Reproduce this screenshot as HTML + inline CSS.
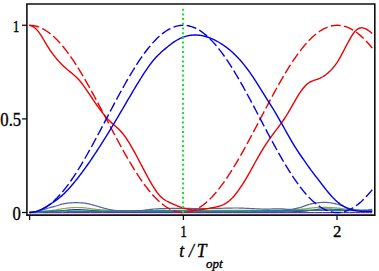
<!DOCTYPE html>
<html><head><meta charset="utf-8"><style>
html,body{margin:0;padding:0;background:#fff;width:379px;height:271px;overflow:hidden}
svg{display:block}
text{font-family:"Liberation Serif",serif;fill:#000;stroke:#000;stroke-width:0.35px}
</style></head><body>
<svg width="379" height="271" viewBox="0 0 379 271">
<defs><clipPath id="c"><rect x="27.7" y="4.8" width="346.3" height="209.5"/></clipPath></defs>
<g clip-path="url(#c)">
<path d="M29.3 213.4 L32.85 213.4 L37.18 213.4 L42.3 213.4 L48.21 213.41 L54.93 213.41 L62.46 213.41 L70.81 213.4 L80 213.4 L90.55 213.39 L102.68 213.38 L115.94 213.36 L129.86 213.34 L143.98 213.32 L157.85 213.31 L171.01 213.3 L183 213.3 L193.92 213.31 L204.24 213.34 L214.09 213.37 L223.56 213.4 L232.78 213.43 L241.85 213.46 L250.89 213.49 L260 213.5 L269.28 213.5 L278.64 213.49 L287.98 213.48 L297.18 213.46 L306.09 213.44 L314.62 213.43 L322.63 213.41 L330 213.4 L336.89 213.4 L343.49 213.39 L349.72 213.39 L355.48 213.39 L360.69 213.4 L365.27 213.4 L369.13 213.4 L372.2 213.4" stroke="#dccbee" stroke-width="1.0" fill="none"/>
<path d="M29.3 212.6 L32.85 212.59 L37.18 212.58 L42.3 212.57 L48.21 212.56 L54.93 212.54 L62.46 212.53 L70.81 212.51 L80 212.5 L90.55 212.49 L102.68 212.47 L115.94 212.46 L129.86 212.44 L143.98 212.43 L157.85 212.42 L171.01 212.41 L183 212.4 L193.92 212.39 L204.24 212.39 L214.09 212.39 L223.56 212.39 L232.78 212.39 L241.85 212.39 L250.89 212.39 L260 212.4 L269.28 212.41 L278.64 212.42 L287.98 212.43 L297.18 212.45 L306.09 212.47 L314.62 212.48 L322.63 212.49 L330 212.5 L336.89 212.5 L343.49 212.51 L349.72 212.51 L355.48 212.51 L360.69 212.5 L365.27 212.5 L369.13 212.5 L372.2 212.5" stroke="#6b2f8f" stroke-width="1.0" fill="none"/>
<path d="M29.3 212.5 L30.52 212.46 L32.14 212.4 L34.07 212.34 L36.21 212.27 L38.47 212.19 L40.76 212.1 L42.96 212 L45 211.9 L46.9 211.79 L48.78 211.66 L50.63 211.53 L52.48 211.39 L54.33 211.24 L56.2 211.09 L58.08 210.95 L60 210.8 L61.95 210.64 L63.93 210.46 L65.93 210.27 L67.94 210.08 L69.96 209.91 L71.98 209.76 L73.99 209.65 L76 209.6 L77.99 209.6 L79.95 209.65 L81.91 209.74 L83.88 209.85 L85.85 209.98 L87.86 210.12 L89.9 210.27 L92 210.4 L94.07 210.54 L96.08 210.69 L98.08 210.86 L100.12 211.03 L102.28 211.2 L104.61 211.35 L107.16 211.49 L110 211.6 L113.09 211.68 L116.35 211.75 L119.8 211.79 L123.44 211.82 L127.27 211.85 L131.3 211.87 L135.55 211.88 L140 211.9 L144.79 211.91 L149.98 211.92 L155.44 211.92 L161.06 211.92 L166.74 211.91 L172.37 211.91 L177.82 211.9 L183 211.9 L187.89 211.9 L192.6 211.9 L197.18 211.9 L201.69 211.9 L206.17 211.9 L210.68 211.9 L215.27 211.9 L220 211.9 L224.86 211.9 L229.79 211.91 L234.78 211.92 L239.81 211.92 L244.87 211.93 L249.93 211.93 L254.98 211.92 L260 211.9 L265.12 211.88 L270.42 211.88 L275.79 211.87 L281.12 211.86 L286.32 211.82 L291.27 211.76 L295.86 211.65 L300 211.5 L303.6 211.26 L306.74 210.94 L309.52 210.57 L312.06 210.17 L314.47 209.78 L316.85 209.44 L319.33 209.16 L322 209 L324.8 208.95 L327.58 208.98 L330.37 209.08 L333.18 209.23 L336.02 209.41 L338.93 209.59 L341.92 209.76 L345 209.9 L348.38 210.03 L352.14 210.17 L356.09 210.31 L360.04 210.46 L363.81 210.59 L367.21 210.72 L370.07 210.82 L372.2 210.9" stroke="#2c34a0" stroke-width="1.1" fill="none"/>
<path d="M29.3 212.5 L30.55 212.42 L32.25 212.31 L34.29 212.18 L36.52 212.04 L38.84 211.88 L41.11 211.72 L43.2 211.56 L45 211.4 L46.53 211.24 L47.94 211.07 L49.24 210.9 L50.46 210.72 L51.62 210.54 L52.75 210.36 L53.87 210.18 L55 210 L56.14 209.82 L57.25 209.64 L58.35 209.45 L59.41 209.26 L60.45 209.08 L61.46 208.91 L62.45 208.75 L63.4 208.6 L64.32 208.47 L65.19 208.35 L66.03 208.23 L66.85 208.13 L67.65 208.04 L68.43 207.95 L69.22 207.87 L70 207.8 L70.77 207.73 L71.5 207.68 L72.21 207.62 L72.91 207.58 L73.63 207.55 L74.37 207.52 L75.16 207.51 L76 207.5 L76.88 207.5 L77.79 207.51 L78.72 207.52 L79.69 207.54 L80.69 207.58 L81.74 207.63 L82.84 207.71 L84 207.8 L85.22 207.93 L86.49 208.08 L87.82 208.26 L89.19 208.46 L90.6 208.66 L92.04 208.85 L93.51 209.04 L95 209.2 L96.5 209.35 L98.02 209.49 L99.55 209.63 L101.12 209.76 L102.74 209.89 L104.42 210 L106.17 210.11 L108 210.2 L109.88 210.28 L111.78 210.35 L113.73 210.42 L115.75 210.47 L117.86 210.51 L120.09 210.55 L122.46 210.58 L125 210.6 L127.69 210.61 L130.5 210.61 L133.44 210.6 L136.5 210.58 L139.69 210.56 L143 210.54 L146.44 210.52 L150 210.5 L153.75 210.49 L157.71 210.47 L161.83 210.46 L166.06 210.44 L170.35 210.43 L174.63 210.42 L178.87 210.41 L183 210.4 L187.03 210.4 L191 210.39 L194.94 210.39 L198.88 210.39 L202.82 210.4 L206.81 210.4 L210.86 210.4 L215 210.4 L219.27 210.4 L223.66 210.4 L228.12 210.4 L232.62 210.41 L237.11 210.41 L241.53 210.41 L245.84 210.4 L250 210.4 L254.06 210.4 L258.09 210.4 L262.06 210.41 L265.94 210.41 L269.7 210.41 L273.32 210.39 L276.76 210.36 L280 210.3 L283.05 210.22 L285.94 210.12 L288.67 210 L291.25 209.86 L293.67 209.72 L295.94 209.58 L298.05 209.44 L300 209.3 L301.73 209.17 L303.2 209.03 L304.48 208.88 L305.62 208.74 L306.69 208.59 L307.73 208.46 L308.82 208.32 L310 208.2 L311.25 208.08 L312.5 207.96 L313.75 207.84 L315 207.72 L316.25 207.62 L317.5 207.53 L318.75 207.45 L320 207.4 L321.25 207.36 L322.5 207.35 L323.75 207.34 L325 207.35 L326.25 207.37 L327.5 207.4 L328.75 207.45 L330 207.5 L331.28 207.57 L332.59 207.65 L333.93 207.74 L335.25 207.85 L336.54 207.96 L337.78 208.08 L338.94 208.19 L340 208.3 L340.89 208.41 L341.59 208.52 L342.19 208.63 L342.75 208.74 L343.34 208.85 L344.03 208.97 L344.89 209.08 L346 209.2 L347.38 209.33 L348.98 209.46 L350.74 209.6 L352.61 209.74 L354.53 209.88 L356.44 210 L358.28 210.11 L360 210.2 L361.69 210.26 L363.46 210.31 L365.24 210.34 L366.98 210.36 L368.6 210.37 L370.05 210.38 L371.27 210.39 L372.2 210.4" stroke="#86aa4a" stroke-width="1.2" fill="none"/>
<path d="M29.3 212.5 L30.52 212.4 L32.14 212.26 L34.07 212.1 L36.21 211.92 L38.47 211.74 L40.76 211.56 L42.96 211.42 L45 211.3 L46.9 211.22 L48.78 211.15 L50.63 211.1 L52.48 211.06 L54.33 211.03 L56.2 211.01 L58.08 211 L60 211 L61.93 211.01 L63.86 211.04 L65.79 211.09 L67.75 211.14 L69.74 211.19 L71.77 211.24 L73.85 211.28 L76 211.3 L78.19 211.31 L80.4 211.3 L82.64 211.29 L84.94 211.28 L87.3 211.26 L89.76 211.23 L92.32 211.22 L95 211.2 L97.8 211.19 L100.71 211.17 L103.72 211.16 L106.81 211.15 L110 211.14 L113.26 211.12 L116.59 211.11 L120 211.1 L123.49 211.09 L127.08 211.07 L130.75 211.05 L134.5 211.04 L138.31 211.02 L142.17 211.01 L146.07 211 L150 211 L153.99 211 L158.06 211.01 L162.2 211.02 L166.38 211.04 L170.57 211.05 L174.75 211.07 L178.9 211.09 L183 211.1 L187.03 211.11 L191 211.13 L194.94 211.15 L198.88 211.16 L202.82 211.18 L206.81 211.19 L210.86 211.2 L215 211.2 L219.33 211.2 L223.89 211.19 L228.56 211.19 L233.25 211.17 L237.84 211.16 L242.23 211.14 L246.32 211.12 L250 211.1 L253.25 211.07 L256.17 211.04 L258.82 211 L261.25 210.96 L263.53 210.91 L265.7 210.87 L267.84 210.83 L270 210.8 L272.11 210.77 L274.1 210.74 L275.99 210.72 L277.81 210.69 L279.59 210.67 L281.37 210.65 L283.16 210.62 L285 210.6 L286.83 210.57 L288.59 210.55 L290.32 210.53 L292.06 210.5 L293.86 210.47 L295.76 210.45 L297.79 210.42 L300 210.4 L302.41 210.37 L304.98 210.34 L307.69 210.31 L310.5 210.28 L313.37 210.25 L316.27 210.22 L319.15 210.21 L322 210.2 L324.85 210.21 L327.75 210.23 L330.68 210.26 L333.62 210.29 L336.55 210.33 L339.44 210.36 L342.26 210.39 L345 210.4 L347.73 210.41 L350.51 210.41 L353.28 210.42 L355.99 210.42 L358.57 210.41 L360.97 210.39 L363.13 210.35 L365 210.3 L366.56 210.22 L367.87 210.11 L368.95 209.98 L369.85 209.84 L370.59 209.71 L371.21 209.58 L371.73 209.47 L372.2 209.4" stroke="#1e7f88" stroke-width="1.5" fill="none"/>
<path d="M29.3 212.5 L29.82 212.45 L30.52 212.4 L31.35 212.33 L32.27 212.25 L33.24 212.16 L34.22 212.05 L35.15 211.94 L36 211.8 L36.79 211.65 L37.56 211.47 L38.31 211.28 L39.06 211.08 L39.8 210.86 L40.54 210.64 L41.27 210.42 L42 210.2 L42.71 209.98 L43.39 209.76 L44.05 209.53 L44.71 209.29 L45.39 209.05 L46.1 208.81 L46.87 208.56 L47.7 208.3 L48.63 208.03 L49.65 207.74 L50.72 207.44 L51.83 207.14 L52.94 206.84 L54.03 206.55 L55.05 206.27 L56 206 L56.86 205.75 L57.66 205.5 L58.42 205.26 L59.14 205.03 L59.85 204.8 L60.55 204.59 L61.27 204.39 L62 204.2 L62.74 204.02 L63.45 203.86 L64.16 203.71 L64.88 203.56 L65.6 203.43 L66.36 203.31 L67.15 203.2 L68 203.1 L68.9 203.01 L69.84 202.93 L70.81 202.86 L71.81 202.8 L72.84 202.75 L73.88 202.72 L74.94 202.7 L76 202.7 L77.07 202.71 L78.16 202.72 L79.26 202.74 L80.38 202.78 L81.51 202.84 L82.66 202.93 L83.82 203.05 L85 203.2 L86.2 203.4 L87.42 203.63 L88.65 203.9 L89.9 204.19 L91.16 204.5 L92.43 204.83 L93.71 205.16 L95 205.5 L96.3 205.86 L97.61 206.24 L98.94 206.65 L100.28 207.06 L101.61 207.48 L102.95 207.88 L104.28 208.25 L105.6 208.6 L106.91 208.92 L108.2 209.23 L109.49 209.52 L110.77 209.79 L112.06 210.05 L113.36 210.29 L114.67 210.51 L116 210.7 L117.37 210.87 L118.78 211.02 L120.21 211.14 L121.65 211.25 L123.07 211.34 L124.45 211.41 L125.76 211.46 L127 211.5 L128.13 211.52 L129.16 211.52 L130.13 211.5 L131.06 211.47 L131.99 211.42 L132.93 211.36 L133.92 211.28 L135 211.2 L136.15 211.1 L137.34 210.98 L138.56 210.85 L139.81 210.71 L141.09 210.55 L142.38 210.4 L143.69 210.25 L145 210.1 L146.31 209.95 L147.61 209.79 L148.92 209.63 L150.25 209.46 L151.61 209.3 L153.02 209.15 L154.47 209.02 L156 208.9 L157.61 208.8 L159.31 208.72 L161.07 208.64 L162.88 208.58 L164.69 208.53 L166.5 208.48 L168.28 208.44 L170 208.4 L171.66 208.37 L173.27 208.34 L174.86 208.32 L176.44 208.3 L178.02 208.29 L179.63 208.29 L181.29 208.29 L183 208.3 L184.77 208.32 L186.56 208.36 L188.39 208.41 L190.25 208.46 L192.14 208.51 L194.06 208.55 L196.02 208.58 L198 208.6 L200 208.6 L202.02 208.59 L204.05 208.57 L206.12 208.54 L208.24 208.51 L210.42 208.48 L212.67 208.44 L215 208.4 L217.48 208.35 L220.13 208.29 L222.89 208.23 L225.69 208.16 L228.46 208.09 L231.15 208.04 L233.68 208.01 L236 208 L238.08 208.02 L239.97 208.06 L241.72 208.12 L243.38 208.19 L244.98 208.27 L246.59 208.35 L248.25 208.43 L250 208.5 L251.83 208.58 L253.68 208.66 L255.55 208.76 L257.44 208.85 L259.33 208.94 L261.23 209.01 L263.12 209.07 L265 209.1 L266.91 209.1 L268.87 209.07 L270.84 209.01 L272.81 208.95 L274.74 208.89 L276.6 208.83 L278.36 208.8 L280 208.8 L281.49 208.85 L282.85 208.95 L284.12 209.07 L285.31 209.2 L286.47 209.32 L287.62 209.4 L288.78 209.44 L290 209.4 L291.24 209.29 L292.48 209.14 L293.71 208.95 L294.94 208.71 L296.18 208.45 L297.43 208.15 L298.7 207.84 L300 207.5 L301.34 207.12 L302.73 206.67 L304.14 206.17 L305.56 205.66 L306.98 205.16 L308.37 204.68 L309.71 204.25 L311 203.9 L312.24 203.62 L313.46 203.39 L314.65 203.2 L315.81 203.04 L316.93 202.91 L318.01 202.79 L319.03 202.69 L320 202.6 L320.88 202.51 L321.66 202.44 L322.38 202.39 L323.06 202.36 L323.74 202.34 L324.43 202.34 L325.17 202.36 L326 202.4 L326.91 202.46 L327.88 202.54 L328.9 202.64 L329.94 202.76 L330.99 202.9 L332.02 203.05 L333.03 203.22 L334 203.4 L334.91 203.59 L335.78 203.8 L336.63 204.03 L337.46 204.27 L338.3 204.53 L339.16 204.8 L340.06 205.09 L341 205.4 L341.99 205.74 L343 206.12 L344.03 206.53 L345.09 206.95 L346.17 207.37 L347.29 207.78 L348.43 208.16 L349.6 208.5 L350.8 208.81 L352.03 209.11 L353.29 209.39 L354.58 209.66 L355.89 209.9 L357.23 210.12 L358.6 210.32 L360 210.5 L361.52 210.65 L363.21 210.76 L364.98 210.85 L366.75 210.93 L368.44 210.98 L369.97 211.03 L371.25 211.06 L372.2 211.1" stroke="#4d64a5" stroke-width="1.2" fill="none"/>
<path d="M29.3 25.3 L30.44 25.33 L31.59 25.4 L32.73 25.53 L33.87 25.71 L35.02 25.94 L36.16 26.21 L37.3 26.54 L38.45 26.92 L39.59 27.35 L40.73 27.83 L41.88 28.36 L43.02 28.94 L44.16 29.57 L45.3 30.24 L46.45 30.97 L47.59 31.74 L48.73 32.56 L49.88 33.43 L51.02 34.34 L52.16 35.3 L53.31 36.3 L54.45 37.35 L55.59 38.45 L56.74 39.58 L57.88 40.76 L59.02 41.99 L60.17 43.25 L61.31 44.56 L62.45 45.9 L63.6 47.29 L64.74 48.71 L65.88 50.18 L67.03 51.68 L68.17 53.21 L69.31 54.79 L70.45 56.39 L71.6 58.04 L72.74 59.71 L73.88 61.42 L75.03 63.16 L76.17 64.92 L77.31 66.72 L78.46 68.55 L79.6 70.4 L80.74 72.28 L81.89 74.19 L83.03 76.12 L84.17 78.07 L85.32 80.05 L86.46 82.04 L87.6 84.06 L88.75 86.09 L89.89 88.15 L91.03 90.22 L92.18 92.3 L93.32 94.4 L94.46 96.52 L95.61 98.64 L96.75 100.78 L97.89 102.92 L99.03 105.08 L100.18 107.24 L101.32 109.41 L102.46 111.58 L103.61 113.76 L104.75 115.94 L105.89 118.12 L107.04 120.31 L108.18 122.49 L109.32 124.67 L110.47 126.85 L111.61 129.02 L112.75 131.19 L113.9 133.35 L115.04 135.5 L116.18 137.64 L117.33 139.78 L118.47 141.9 L119.61 144.01 L120.76 146.1 L121.9 148.18 L123.04 150.25 L124.19 152.3 L125.33 154.33 L126.47 156.34 L127.61 158.33 L128.76 160.3 L129.9 162.24 L131.04 164.17 L132.19 166.06 L133.33 167.94 L134.47 169.78 L135.62 171.6 L136.76 173.39 L137.9 175.15 L139.05 176.88 L140.19 178.58 L141.33 180.24 L142.48 181.87 L143.62 183.47 L144.76 185.03 L145.91 186.56 L147.05 188.05 L148.19 189.5 L149.34 190.92 L150.48 192.29 L151.62 193.63 L152.76 194.92 L153.91 196.17 L155.05 197.38 L156.19 198.55 L157.34 199.68 L158.48 200.76 L159.62 201.79 L160.77 202.78 L161.91 203.73 L163.05 204.63 L164.2 205.48 L165.34 206.29 L166.48 207.05 L167.63 207.76 L168.77 208.42 L169.91 209.03 L171.06 209.6 L172.2 210.11 L173.34 210.58 L174.49 210.99 L175.63 211.36 L176.77 211.67 L177.92 211.94 L179.06 212.15 L180.2 212.31 L181.34 212.43 L182.49 212.49 L183.63 212.5 L184.77 212.46 L185.92 212.37 L187.06 212.22 L188.2 212.03 L189.35 211.79 L190.49 211.49 L191.63 211.15 L192.78 210.76 L193.92 210.31 L195.06 209.82 L196.21 209.27 L197.35 208.68 L198.49 208.04 L199.64 207.35 L200.78 206.61 L201.92 205.83 L203.07 204.99 L204.21 204.11 L205.35 203.19 L206.49 202.22 L207.64 201.2 L208.78 200.14 L209.92 199.03 L211.07 197.88 L212.21 196.69 L213.35 195.45 L214.5 194.18 L215.64 192.86 L216.78 191.5 L217.93 190.1 L219.07 188.67 L220.21 187.19 L221.36 185.68 L222.5 184.13 L223.64 182.55 L224.79 180.93 L225.93 179.28 L227.07 177.6 L228.22 175.88 L229.36 174.13 L230.5 172.36 L231.65 170.55 L232.79 168.72 L233.93 166.86 L235.07 164.97 L236.22 163.06 L237.36 161.12 L238.5 159.16 L239.65 157.18 L240.79 155.18 L241.93 153.15 L243.08 151.11 L244.22 149.06 L245.36 146.98 L246.51 144.89 L247.65 142.79 L248.79 140.67 L249.94 138.54 L251.08 136.4 L252.22 134.25 L253.37 132.1 L254.51 129.93 L255.65 127.76 L256.8 125.59 L257.94 123.41 L259.08 121.23 L260.23 119.04 L261.37 116.86 L262.51 114.68 L263.65 112.5 L264.8 110.32 L265.94 108.15 L267.08 105.99 L268.23 103.83 L269.37 101.68 L270.51 99.54 L271.66 97.41 L272.8 95.29 L273.94 93.18 L275.09 91.09 L276.23 89.02 L277.37 86.96 L278.52 84.91 L279.66 82.89 L280.8 80.88 L281.95 78.9 L283.09 76.94 L284.23 75 L285.38 73.08 L286.52 71.19 L287.66 69.33 L288.8 67.49 L289.95 65.68 L291.09 63.9 L292.23 62.15 L293.38 60.43 L294.52 58.74 L295.66 57.08 L296.81 55.46 L297.95 53.87 L299.09 52.32 L300.24 50.8 L301.38 49.32 L302.52 47.88 L303.67 46.48 L304.81 45.12 L305.95 43.79 L307.1 42.51 L308.24 41.27 L309.38 40.07 L310.53 38.92 L311.67 37.81 L312.81 36.74 L313.96 35.72 L315.1 34.74 L316.24 33.8 L317.38 32.92 L318.53 32.08 L319.67 31.29 L320.81 30.54 L321.96 29.85 L323.1 29.2 L324.24 28.6 L325.39 28.05 L326.53 27.55 L327.67 27.1 L328.82 26.7 L329.96 26.35 L331.1 26.05 L332.25 25.8 L333.39 25.6 L334.53 25.45 L335.68 25.35 L336.82 25.3 L337.96 25.31 L339.11 25.36 L340.25 25.47 L341.39 25.63 L342.53 25.83 L343.68 26.09 L344.82 26.4 L345.96 26.76 L347.11 27.17 L348.25 27.63 L349.39 28.13 L350.54 28.69 L351.68 29.3 L352.82 29.95 L353.97 30.66 L355.11 31.41 L356.25 32.21 L357.4 33.06 L358.54 33.95 L359.68 34.89 L360.83 35.87 L361.97 36.9 L363.11 37.98 L364.26 39.1 L365.4 40.26 L366.54 41.47 L367.69 42.71 L368.83 44 L369.97 45.33 L371.11 46.7 L372.26 48.11" stroke="#ee0000" stroke-width="1.4" fill="none" stroke-dasharray="10 3.4"/>
<path d="M29.2 25.34 L30.06 25.48 L30.92 25.71 L31.78 26.02 L32.64 26.43 L33.5 26.92 L34.36 27.52 L35.22 28.2 L36.08 28.99 L36.94 29.87 L37.8 30.85 L38.66 31.94 L39.52 33.12 L40.38 34.39 L41.24 35.72 L42.09 37.11 L42.95 38.54 L43.81 40 L44.67 41.48 L45.53 42.94 L46.39 44.38 L47.25 45.79 L48.11 47.15 L48.97 48.48 L49.83 49.78 L50.69 51.04 L51.55 52.26 L52.41 53.45 L53.27 54.61 L54.13 55.74 L54.99 56.83 L55.85 57.9 L56.71 58.93 L57.57 59.93 L58.43 60.91 L59.29 61.86 L60.15 62.78 L61.01 63.68 L61.87 64.55 L62.73 65.39 L63.59 66.21 L64.45 67.01 L65.31 67.78 L66.16 68.53 L67.02 69.27 L67.88 69.98 L68.74 70.69 L69.6 71.39 L70.46 72.08 L71.32 72.78 L72.18 73.49 L73.04 74.21 L73.9 74.95 L74.76 75.71 L75.62 76.5 L76.48 77.31 L77.34 78.17 L78.2 79.07 L79.06 80.01 L79.92 81.01 L80.78 82.05 L81.64 83.15 L82.5 84.28 L83.36 85.44 L84.22 86.64 L85.08 87.86 L85.94 89.1 L86.8 90.36 L87.66 91.63 L88.52 92.9 L89.38 94.18 L90.24 95.45 L91.09 96.73 L91.95 98 L92.81 99.27 L93.67 100.53 L94.53 101.79 L95.39 103.04 L96.25 104.27 L97.11 105.49 L97.97 106.7 L98.83 107.9 L99.69 109.08 L100.55 110.23 L101.41 111.37 L102.27 112.49 L103.13 113.58 L103.99 114.65 L104.85 115.69 L105.71 116.7 L106.57 117.68 L107.43 118.63 L108.29 119.54 L109.15 120.42 L110.01 121.27 L110.87 122.09 L111.73 122.88 L112.59 123.65 L113.45 124.41 L114.31 125.17 L115.16 125.93 L116.02 126.69 L116.88 127.47 L117.74 128.26 L118.6 129.08 L119.46 129.93 L120.32 130.82 L121.18 131.75 L122.04 132.73 L122.9 133.77 L123.76 134.87 L124.62 136.01 L125.48 137.21 L126.34 138.46 L127.2 139.75 L128.06 141.08 L128.92 142.45 L129.78 143.86 L130.64 145.3 L131.5 146.78 L132.36 148.28 L133.22 149.8 L134.08 151.35 L134.94 152.92 L135.8 154.51 L136.66 156.11 L137.52 157.72 L138.38 159.34 L139.24 160.97 L140.09 162.61 L140.95 164.25 L141.81 165.89 L142.67 167.53 L143.53 169.17 L144.39 170.8 L145.25 172.42 L146.11 174.04 L146.97 175.64 L147.83 177.22 L148.69 178.79 L149.55 180.33 L150.41 181.86 L151.27 183.35 L152.13 184.82 L152.99 186.25 L153.85 187.63 L154.71 188.97 L155.57 190.26 L156.43 191.49 L157.29 192.66 L158.15 193.76 L159.01 194.8 L159.87 195.75 L160.73 196.63 L161.59 197.43 L162.45 198.16 L163.31 198.83 L164.16 199.44 L165.02 200 L165.88 200.52 L166.74 201.01 L167.6 201.47 L168.46 201.9 L169.32 202.33 L170.18 202.75 L171.04 203.16 L171.9 203.57 L172.76 203.96 L173.62 204.35 L174.48 204.73 L175.34 205.11 L176.2 205.47 L177.06 205.82 L177.92 206.17 L178.78 206.5 L179.64 206.82 L180.5 207.13 L181.36 207.42 L182.22 207.7 L183.08 207.97 L183.94 208.23 L184.8 208.47 L185.66 208.69 L186.52 208.9 L187.38 209.09 L188.24 209.27 L189.09 209.43 L189.95 209.57 L190.81 209.69 L191.67 209.79 L192.53 209.88 L193.39 209.94 L194.25 209.98 L195.11 210 L195.97 209.99 L196.83 209.97 L197.69 209.93 L198.55 209.87 L199.41 209.79 L200.27 209.7 L201.13 209.59 L201.99 209.48 L202.85 209.35 L203.71 209.22 L204.57 209.08 L205.43 208.93 L206.29 208.78 L207.15 208.63 L208.01 208.48 L208.87 208.32 L209.73 208.17 L210.59 208.03 L211.45 207.88 L212.31 207.74 L213.16 207.59 L214.02 207.43 L214.88 207.26 L215.74 207.09 L216.6 206.9 L217.46 206.69 L218.32 206.46 L219.18 206.21 L220.04 205.94 L220.9 205.64 L221.76 205.31 L222.62 204.95 L223.48 204.55 L224.34 204.11 L225.2 203.64 L226.06 203.12 L226.92 202.55 L227.78 201.94 L228.64 201.28 L229.5 200.56 L230.36 199.79 L231.22 198.98 L232.08 198.12 L232.94 197.21 L233.8 196.26 L234.66 195.26 L235.52 194.22 L236.38 193.14 L237.24 192.03 L238.09 190.87 L238.95 189.68 L239.81 188.46 L240.67 187.2 L241.53 185.9 L242.39 184.58 L243.25 183.23 L244.11 181.85 L244.97 180.45 L245.83 179.02 L246.69 177.57 L247.55 176.09 L248.41 174.6 L249.27 173.08 L250.13 171.55 L250.99 170.01 L251.85 168.46 L252.71 166.9 L253.57 165.34 L254.43 163.78 L255.29 162.23 L256.15 160.68 L257.01 159.14 L257.87 157.61 L258.73 156.1 L259.59 154.61 L260.45 153.14 L261.31 151.7 L262.16 150.27 L263.02 148.87 L263.88 147.48 L264.74 146.12 L265.6 144.78 L266.46 143.47 L267.32 142.17 L268.18 140.9 L269.04 139.65 L269.9 138.42 L270.76 137.22 L271.62 136.04 L272.48 134.87 L273.34 133.72 L274.2 132.58 L275.06 131.45 L275.92 130.31 L276.78 129.19 L277.64 128.05 L278.5 126.91 L279.36 125.77 L280.22 124.61 L281.08 123.43 L281.94 122.23 L282.8 121.02 L283.66 119.77 L284.52 118.5 L285.38 117.2 L286.24 115.85 L287.09 114.48 L287.95 113.06 L288.81 111.6 L289.67 110.12 L290.53 108.63 L291.39 107.11 L292.25 105.59 L293.11 104.07 L293.97 102.55 L294.83 101.05 L295.69 99.57 L296.55 98.11 L297.41 96.68 L298.27 95.29 L299.13 93.94 L299.99 92.64 L300.85 91.38 L301.71 90.18 L302.57 89.04 L303.43 87.96 L304.29 86.94 L305.15 86 L306.01 85.12 L306.87 84.33 L307.73 83.61 L308.59 82.98 L309.45 82.42 L310.31 81.94 L311.16 81.5 L312.02 81.12 L312.88 80.78 L313.74 80.46 L314.6 80.17 L315.46 79.88 L316.32 79.6 L317.18 79.32 L318.04 79.01 L318.9 78.69 L319.76 78.32 L320.62 77.92 L321.48 77.49 L322.34 77.01 L323.2 76.5 L324.06 75.95 L324.92 75.35 L325.78 74.73 L326.64 74.06 L327.5 73.35 L328.36 72.61 L329.22 71.82 L330.08 71 L330.94 70.13 L331.8 69.22 L332.66 68.26 L333.52 67.25 L334.38 66.19 L335.24 65.06 L336.09 63.86 L336.95 62.6 L337.81 61.26 L338.67 59.85 L339.53 58.39 L340.39 56.87 L341.25 55.31 L342.11 53.72 L342.97 52.1 L343.83 50.45 L344.69 48.8 L345.55 47.14 L346.41 45.49 L347.27 43.84 L348.13 42.22 L348.99 40.62 L349.85 39.07 L350.71 37.56 L351.57 36.12 L352.43 34.76 L353.29 33.5 L354.15 32.35 L355.01 31.32 L355.87 30.43 L356.73 29.68 L357.59 29.07 L358.45 28.58 L359.31 28.22 L360.16 27.98 L361.02 27.85 L361.88 27.82 L362.74 27.89 L363.6 28.06 L364.46 28.31 L365.32 28.65 L366.18 29.06 L367.04 29.54 L367.9 30.08 L368.76 30.69 L369.62 31.34 L370.48 32.03 L371.34 32.77 L372.2 33.54" stroke="#ee0000" stroke-width="1.4" fill="none"/>
<path d="M29.3 212.5 L30.44 212.47 L31.59 212.4 L32.73 212.27 L33.87 212.09 L35.02 211.86 L36.16 211.59 L37.3 211.26 L38.45 210.88 L39.59 210.45 L40.73 209.97 L41.88 209.44 L43.02 208.86 L44.16 208.23 L45.3 207.56 L46.45 206.83 L47.59 206.06 L48.73 205.24 L49.88 204.37 L51.02 203.46 L52.16 202.5 L53.31 201.5 L54.45 200.45 L55.59 199.35 L56.74 198.22 L57.88 197.04 L59.02 195.81 L60.17 194.55 L61.31 193.24 L62.45 191.9 L63.6 190.51 L64.74 189.09 L65.88 187.62 L67.03 186.12 L68.17 184.59 L69.31 183.01 L70.45 181.41 L71.6 179.76 L72.74 178.09 L73.88 176.38 L75.03 174.64 L76.17 172.88 L77.31 171.08 L78.46 169.25 L79.6 167.4 L80.74 165.52 L81.89 163.61 L83.03 161.68 L84.17 159.73 L85.32 157.75 L86.46 155.76 L87.6 153.74 L88.75 151.71 L89.89 149.65 L91.03 147.58 L92.18 145.5 L93.32 143.4 L94.46 141.28 L95.61 139.16 L96.75 137.02 L97.89 134.88 L99.03 132.72 L100.18 130.56 L101.32 128.39 L102.46 126.22 L103.61 124.04 L104.75 121.86 L105.89 119.68 L107.04 117.49 L108.18 115.31 L109.32 113.13 L110.47 110.95 L111.61 108.78 L112.75 106.61 L113.9 104.45 L115.04 102.3 L116.18 100.16 L117.33 98.02 L118.47 95.9 L119.61 93.79 L120.76 91.7 L121.9 89.62 L123.04 87.55 L124.19 85.5 L125.33 83.47 L126.47 81.46 L127.61 79.47 L128.76 77.5 L129.9 75.56 L131.04 73.63 L132.19 71.74 L133.33 69.86 L134.47 68.02 L135.62 66.2 L136.76 64.41 L137.9 62.65 L139.05 60.92 L140.19 59.22 L141.33 57.56 L142.48 55.93 L143.62 54.33 L144.76 52.77 L145.91 51.24 L147.05 49.75 L148.19 48.3 L149.34 46.88 L150.48 45.51 L151.62 44.17 L152.76 42.88 L153.91 41.63 L155.05 40.42 L156.19 39.25 L157.34 38.12 L158.48 37.04 L159.62 36.01 L160.77 35.02 L161.91 34.07 L163.05 33.17 L164.2 32.32 L165.34 31.51 L166.48 30.75 L167.63 30.04 L168.77 29.38 L169.91 28.77 L171.06 28.2 L172.2 27.69 L173.34 27.22 L174.49 26.81 L175.63 26.44 L176.77 26.13 L177.92 25.86 L179.06 25.65 L180.2 25.49 L181.34 25.37 L182.49 25.31 L183.63 25.3 L184.77 25.34 L185.92 25.43 L187.06 25.58 L188.2 25.77 L189.35 26.01 L190.49 26.31 L191.63 26.65 L192.78 27.04 L193.92 27.49 L195.06 27.98 L196.21 28.53 L197.35 29.12 L198.49 29.76 L199.64 30.45 L200.78 31.19 L201.92 31.97 L203.07 32.81 L204.21 33.69 L205.35 34.61 L206.49 35.58 L207.64 36.6 L208.78 37.66 L209.92 38.77 L211.07 39.92 L212.21 41.11 L213.35 42.35 L214.5 43.62 L215.64 44.94 L216.78 46.3 L217.93 47.7 L219.07 49.13 L220.21 50.61 L221.36 52.12 L222.5 53.67 L223.64 55.25 L224.79 56.87 L225.93 58.52 L227.07 60.2 L228.22 61.92 L229.36 63.67 L230.5 65.44 L231.65 67.25 L232.79 69.08 L233.93 70.94 L235.07 72.83 L236.22 74.74 L237.36 76.68 L238.5 78.64 L239.65 80.62 L240.79 82.62 L241.93 84.65 L243.08 86.69 L244.22 88.74 L245.36 90.82 L246.51 92.91 L247.65 95.01 L248.79 97.13 L249.94 99.26 L251.08 101.4 L252.22 103.55 L253.37 105.7 L254.51 107.87 L255.65 110.04 L256.8 112.21 L257.94 114.39 L259.08 116.57 L260.23 118.76 L261.37 120.94 L262.51 123.12 L263.65 125.3 L264.8 127.48 L265.94 129.65 L267.08 131.81 L268.23 133.97 L269.37 136.12 L270.51 138.26 L271.66 140.39 L272.8 142.51 L273.94 144.62 L275.09 146.71 L276.23 148.78 L277.37 150.84 L278.52 152.89 L279.66 154.91 L280.8 156.92 L281.95 158.9 L283.09 160.86 L284.23 162.8 L285.38 164.72 L286.52 166.61 L287.66 168.47 L288.8 170.31 L289.95 172.12 L291.09 173.9 L292.23 175.65 L293.38 177.37 L294.52 179.06 L295.66 180.72 L296.81 182.34 L297.95 183.93 L299.09 185.48 L300.24 187 L301.38 188.48 L302.52 189.92 L303.67 191.32 L304.81 192.68 L305.95 194.01 L307.1 195.29 L308.24 196.53 L309.38 197.73 L310.53 198.88 L311.67 199.99 L312.81 201.06 L313.96 202.08 L315.1 203.06 L316.24 204 L317.38 204.88 L318.53 205.72 L319.67 206.51 L320.81 207.26 L321.96 207.95 L323.1 208.6 L324.24 209.2 L325.39 209.75 L326.53 210.25 L327.67 210.7 L328.82 211.1 L329.96 211.45 L331.1 211.75 L332.25 212 L333.39 212.2 L334.53 212.35 L335.68 212.45 L336.82 212.5 L337.96 212.49 L339.11 212.44 L340.25 212.33 L341.39 212.17 L342.53 211.97 L343.68 211.71 L344.82 211.4 L345.96 211.04 L347.11 210.63 L348.25 210.17 L349.39 209.67 L350.54 209.11 L351.68 208.5 L352.82 207.85 L353.97 207.14 L355.11 206.39 L356.25 205.59 L357.4 204.74 L358.54 203.85 L359.68 202.91 L360.83 201.93 L361.97 200.9 L363.11 199.82 L364.26 198.7 L365.4 197.54 L366.54 196.33 L367.69 195.09 L368.83 193.8 L369.97 192.47 L371.11 191.1 L372.26 189.69" stroke="#0000e6" stroke-width="1.4" fill="none" stroke-dasharray="10 3.4"/>
<path d="M29.3 212.33 L30.16 212.35 L31.02 212.33 L31.88 212.26 L32.74 212.16 L33.6 212.02 L34.46 211.85 L35.32 211.64 L36.18 211.4 L37.03 211.12 L37.89 210.82 L38.75 210.49 L39.61 210.13 L40.47 209.75 L41.33 209.35 L42.19 208.92 L43.05 208.48 L43.91 208.01 L44.77 207.53 L45.63 207.04 L46.49 206.53 L47.35 206.01 L48.21 205.48 L49.07 204.94 L49.93 204.39 L50.78 203.84 L51.64 203.28 L52.5 202.72 L53.36 202.15 L54.22 201.57 L55.08 200.98 L55.94 200.37 L56.8 199.75 L57.66 199.11 L58.52 198.46 L59.38 197.78 L60.24 197.08 L61.1 196.36 L61.96 195.61 L62.82 194.84 L63.68 194.04 L64.54 193.21 L65.39 192.36 L66.25 191.49 L67.11 190.59 L67.97 189.68 L68.83 188.74 L69.69 187.78 L70.55 186.8 L71.41 185.81 L72.27 184.8 L73.13 183.78 L73.99 182.73 L74.85 181.68 L75.71 180.61 L76.57 179.54 L77.43 178.45 L78.29 177.34 L79.15 176.23 L80 175.1 L80.86 173.97 L81.72 172.82 L82.58 171.66 L83.44 170.49 L84.3 169.32 L85.16 168.13 L86.02 166.93 L86.88 165.72 L87.74 164.5 L88.6 163.27 L89.46 162.03 L90.32 160.79 L91.18 159.53 L92.04 158.26 L92.9 156.99 L93.75 155.71 L94.61 154.42 L95.47 153.12 L96.33 151.81 L97.19 150.5 L98.05 149.17 L98.91 147.85 L99.77 146.51 L100.63 145.16 L101.49 143.81 L102.35 142.46 L103.21 141.09 L104.07 139.72 L104.93 138.34 L105.79 136.96 L106.65 135.57 L107.51 134.18 L108.36 132.78 L109.22 131.37 L110.08 129.96 L110.94 128.54 L111.8 127.12 L112.66 125.7 L113.52 124.27 L114.38 122.83 L115.24 121.4 L116.1 119.95 L116.96 118.51 L117.82 117.06 L118.68 115.6 L119.54 114.15 L120.4 112.69 L121.26 111.23 L122.12 109.76 L122.97 108.29 L123.83 106.82 L124.69 105.35 L125.55 103.88 L126.41 102.41 L127.27 100.94 L128.13 99.47 L128.99 98 L129.85 96.53 L130.71 95.07 L131.57 93.61 L132.43 92.16 L133.29 90.71 L134.15 89.26 L135.01 87.82 L135.87 86.39 L136.72 84.97 L137.58 83.56 L138.44 82.15 L139.3 80.76 L140.16 79.37 L141.02 78 L141.88 76.64 L142.74 75.29 L143.6 73.96 L144.46 72.64 L145.32 71.33 L146.18 70.05 L147.04 68.78 L147.9 67.54 L148.76 66.32 L149.62 65.14 L150.48 63.98 L151.33 62.85 L152.19 61.75 L153.05 60.69 L153.91 59.67 L154.77 58.68 L155.63 57.73 L156.49 56.81 L157.35 55.92 L158.21 55.06 L159.07 54.22 L159.93 53.41 L160.79 52.61 L161.65 51.84 L162.51 51.08 L163.37 50.33 L164.23 49.6 L165.08 48.87 L165.94 48.15 L166.8 47.44 L167.66 46.73 L168.52 46.04 L169.38 45.35 L170.24 44.68 L171.1 44.02 L171.96 43.38 L172.82 42.76 L173.68 42.16 L174.54 41.58 L175.4 41.03 L176.26 40.5 L177.12 40 L177.98 39.52 L178.84 39.06 L179.69 38.64 L180.55 38.24 L181.41 37.86 L182.27 37.5 L183.13 37.18 L183.99 36.87 L184.85 36.59 L185.71 36.33 L186.57 36.1 L187.43 35.89 L188.29 35.7 L189.15 35.54 L190.01 35.4 L190.87 35.28 L191.73 35.18 L192.59 35.11 L193.45 35.05 L194.3 35.02 L195.16 35.01 L196.02 35.02 L196.88 35.05 L197.74 35.11 L198.6 35.18 L199.46 35.27 L200.32 35.39 L201.18 35.52 L202.04 35.67 L202.9 35.84 L203.76 36.03 L204.62 36.24 L205.48 36.47 L206.34 36.72 L207.2 36.98 L208.05 37.27 L208.91 37.57 L209.77 37.89 L210.63 38.22 L211.49 38.58 L212.35 38.95 L213.21 39.33 L214.07 39.74 L214.93 40.16 L215.79 40.59 L216.65 41.04 L217.51 41.51 L218.37 41.99 L219.23 42.49 L220.09 43.01 L220.95 43.54 L221.81 44.09 L222.66 44.65 L223.52 45.23 L224.38 45.83 L225.24 46.45 L226.1 47.08 L226.96 47.74 L227.82 48.41 L228.68 49.1 L229.54 49.8 L230.4 50.53 L231.26 51.27 L232.12 52.04 L232.98 52.82 L233.84 53.63 L234.7 54.45 L235.56 55.3 L236.42 56.16 L237.27 57.05 L238.13 57.96 L238.99 58.89 L239.85 59.84 L240.71 60.81 L241.57 61.8 L242.43 62.82 L243.29 63.85 L244.15 64.91 L245.01 65.99 L245.87 67.09 L246.73 68.21 L247.59 69.36 L248.45 70.52 L249.31 71.71 L250.17 72.91 L251.02 74.14 L251.88 75.38 L252.74 76.65 L253.6 77.94 L254.46 79.24 L255.32 80.57 L256.18 81.92 L257.04 83.28 L257.9 84.65 L258.76 86.04 L259.62 87.42 L260.48 88.81 L261.34 90.2 L262.2 91.59 L263.06 92.97 L263.92 94.34 L264.78 95.7 L265.63 97.06 L266.49 98.41 L267.35 99.76 L268.21 101.11 L269.07 102.47 L269.93 103.83 L270.79 105.19 L271.65 106.57 L272.51 107.95 L273.37 109.34 L274.23 110.75 L275.09 112.18 L275.95 113.62 L276.81 115.08 L277.67 116.56 L278.53 118.05 L279.38 119.55 L280.24 121.07 L281.1 122.59 L281.96 124.13 L282.82 125.66 L283.68 127.2 L284.54 128.74 L285.4 130.28 L286.26 131.82 L287.12 133.35 L287.98 134.88 L288.84 136.39 L289.7 137.9 L290.56 139.39 L291.42 140.87 L292.28 142.34 L293.14 143.78 L293.99 145.2 L294.85 146.61 L295.71 147.98 L296.57 149.33 L297.43 150.66 L298.29 151.96 L299.15 153.24 L300.01 154.51 L300.87 155.76 L301.73 157 L302.59 158.23 L303.45 159.46 L304.31 160.68 L305.17 161.91 L306.03 163.13 L306.89 164.35 L307.75 165.57 L308.6 166.77 L309.46 167.97 L310.32 169.14 L311.18 170.3 L312.04 171.45 L312.9 172.59 L313.76 173.72 L314.62 174.84 L315.48 175.96 L316.34 177.07 L317.2 178.19 L318.06 179.3 L318.92 180.43 L319.78 181.55 L320.64 182.68 L321.5 183.8 L322.35 184.92 L323.21 186.04 L324.07 187.15 L324.93 188.24 L325.79 189.33 L326.65 190.41 L327.51 191.46 L328.37 192.5 L329.23 193.53 L330.09 194.52 L330.95 195.5 L331.81 196.45 L332.67 197.37 L333.53 198.26 L334.39 199.11 L335.25 199.94 L336.11 200.73 L336.96 201.49 L337.82 202.22 L338.68 202.91 L339.54 203.58 L340.4 204.21 L341.26 204.81 L342.12 205.38 L342.98 205.93 L343.84 206.44 L344.7 206.92 L345.56 207.38 L346.42 207.81 L347.28 208.21 L348.14 208.58 L349 208.92 L349.86 209.24 L350.72 209.53 L351.57 209.79 L352.43 210.03 L353.29 210.25 L354.15 210.44 L355.01 210.61 L355.87 210.76 L356.73 210.89 L357.59 211 L358.45 211.09 L359.31 211.17 L360.17 211.24 L361.03 211.29 L361.89 211.33 L362.75 211.36 L363.61 211.38 L364.47 211.39 L365.32 211.4 L366.18 211.4 L367.04 211.4 L367.9 211.4 L368.76 211.39 L369.62 211.39 L370.48 211.38 L371.34 211.38 L372.2 211.39" stroke="#0000e6" stroke-width="1.4" fill="none"/>
<line x1="183.0" y1="8.7" x2="183.0" y2="214" stroke="#22dd33" stroke-width="2.1" stroke-dasharray="2 2.7"/>
</g>
<path d="M26.9 3.2 V215.1 H374.8 V4 H26.9" fill="none" stroke="#111" stroke-width="1.6" stroke-linejoin="miter"/>
<g stroke="#111" stroke-width="1.3">
<line x1="22" y1="25.3" x2="27" y2="25.3"/>
<line x1="22" y1="118.9" x2="27" y2="118.9"/>
<line x1="22" y1="212.5" x2="27" y2="212.5"/>
<line x1="29.6" y1="215" x2="29.6" y2="220"/>
<line x1="183.4" y1="215" x2="183.4" y2="220"/>
<line x1="337.0" y1="215" x2="337.0" y2="220"/>
</g>
<g font-size="19">
<text transform="translate(19.5 31.9) scale(0.76 1)" text-anchor="end" font-size="17.5">1</text>
<text transform="translate(21.2 126) scale(0.88 1)" text-anchor="end">0.5</text>
<text transform="translate(20.8 219.8) scale(0.88 1)" text-anchor="end">0</text>
<text transform="translate(183.6 236.9) scale(0.76 1)" text-anchor="middle" font-size="17.5">1</text>
<text transform="translate(337.2 237.0) scale(0.95 1)" text-anchor="middle" font-size="17.6">2</text>
<text transform="translate(179.3 256.5) scale(0.97 1)" font-style="italic" font-size="18">t</text>
<text transform="translate(189.0 256.5) scale(0.97 1)" font-style="italic" font-size="18">/</text>
<text transform="translate(196.8 256.5) scale(0.97 1)" font-style="italic" font-size="18">T</text>
<text transform="translate(206.0 267.9) scale(1.0 1)" font-style="italic" font-size="13">opt</text>
</g>
</svg>
</body></html>
